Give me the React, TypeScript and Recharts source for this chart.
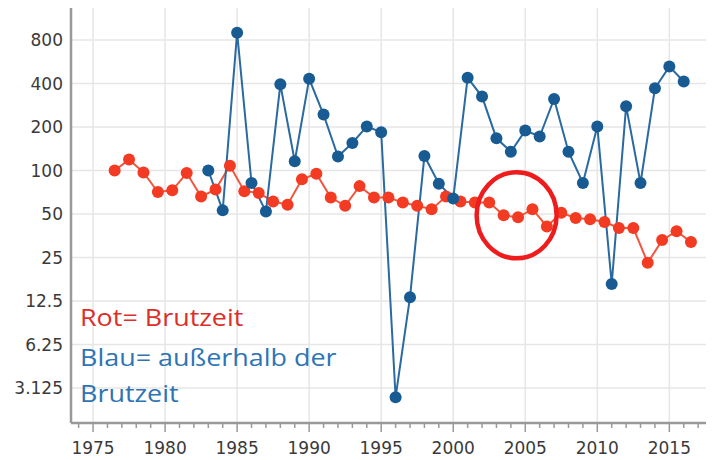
import React from "react";
import { LineChart, Line, XAxis, YAxis, CartesianGrid, ReferenceLine, ReferenceDot } from "recharts";

const redYears = [
  1976.5, 1977.5, 1978.5, 1979.5, 1980.5, 1981.5, 1982.5, 1983.5, 1984.5, 1985.5,
  1986.5, 1987.5, 1988.5, 1989.5, 1990.5, 1991.5, 1992.5, 1993.5, 1994.5, 1995.5,
  1996.5, 1997.5, 1998.5, 1999.5, 2000.5, 2001.5, 2002.5, 2003.5, 2004.5, 2005.5,
  2006.5, 2007.5, 2008.5, 2009.5, 2010.5, 2011.5, 2012.5, 2013.5, 2014.5, 2015.5, 2016.5,
];
const redValues = [
  100, 119, 97, 71, 73, 96, 66, 74, 108, 72,
  70, 61, 58, 87, 95, 65, 57, 78, 65, 65,
  60, 57, 54, 66, 61, 60, 60, 49, 47.5, 54,
  41, 51, 47, 46, 44, 40, 40, 23, 33, 38, 32,
];

const blueYears = [
  1983, 1984, 1985, 1986, 1987, 1988, 1989, 1990, 1991, 1992,
  1993, 1994, 1995, 1996, 1997, 1998, 1999, 2000, 2001, 2002,
  2003, 2004, 2005, 2006, 2007, 2008, 2009, 2010, 2011, 2012,
  2013, 2014, 2015, 2016,
];
const blueValues = [
  100, 53, 900, 82, 52, 395, 116, 431, 244, 125,
  155, 202, 184, 2.7, 13.3, 126, 81, 64, 438, 325,
  167, 135, 189, 172, 313, 135, 82, 202, 16.4, 279,
  82, 371, 524, 413,
];

const majorXTicks = [1975, 1980, 1985, 1990, 1995, 2000, 2005, 2010, 2015];
const allXTicks = [
  1974, 1975, 1976, 1977, 1978, 1979, 1980, 1981, 1982, 1983, 1984, 1985, 1986,
  1987, 1988, 1989, 1990, 1991, 1992, 1993, 1994, 1995, 1996, 1997, 1998, 1999,
  2000, 2001, 2002, 2003, 2004, 2005, 2006, 2007, 2008, 2009, 2010, 2011, 2012,
  2013, 2014, 2015, 2016, 2017, 2018,
];
const yTicks = [3.125, 6.25, 12.5, 25, 50, 100, 200, 400, 800];
const xDomain = [1973.47, 2018.1];
const yDomain = [1.79, 1398];

const legendLines = [
  { text: "Rot= Brutzeit", color: "#dc2f2a" },
  { text: "Blau= außerhalb der", color: "#2e74b5" },
  { text: "Brutzeit", color: "#2e74b5" },
];

const annotation = { year: 2004.4, value: 49 };

const redData = redYears.map((year, i) => ({ year, value: redValues[i] }));
const blueData = blueYears.map((year, i) => ({ year, value: blueValues[i] }));

const tickFont = "DejaVu Sans, Verdana, sans-serif";

const XTick = (props: any) => {
  const { x, y, payload } = props;
  const major = majorXTicks.includes(payload.value);
  return (
    <g>
      <line x1={x} x2={x} y1={y} y2={y + (major ? 9 : 5)} stroke="#999" strokeWidth={1.5} />
      {major && (
        <text x={x} y={y + 31} textAnchor="middle" fill="#3a3a3a" fontSize={17} fontFamily={tickFont}>
          {payload.value}
        </text>
      )}
    </g>
  );
};

const Ellipse = (props: any) => {
  const { cx, cy } = props;
  return <ellipse cx={cx} cy={cy} rx={40} ry={43} fill="none" stroke="#ee1c1c" strokeWidth={4.5} />;
};

export default function App() {
  return (
    <div style={{ position: "relative", width: 714, height: 460, margin: "-8px 0 0 -8px", background: "#fff" }}>
      <LineChart width={714} height={460} data={redData} margin={{ top: 5, right: 0, bottom: 0, left: 8 }}>
        <CartesianGrid vertical={false} stroke="#e6e6e6" strokeWidth={1.5} />
        {majorXTicks.map((t) => (
          <ReferenceLine key={t} x={t} stroke="#e6e6e6" strokeWidth={1.5} />
        ))}
        <XAxis
          dataKey="year"
          type="number"
          domain={xDomain}
          allowDataOverflow
          ticks={allXTicks}
          interval={0}
          tickSize={0}
          tickMargin={0}
          height={37}
          tick={<XTick />}
          axisLine={{ stroke: "#999", strokeWidth: 2.5 }}
          tickLine={false}
        />
        <YAxis
          type="number"
          scale="log"
          domain={yDomain}
          allowDataOverflow
          ticks={yTicks}
          interval={0}
          width={63}
          tickSize={0}
          tickMargin={8}
          tickLine={false}
          axisLine={{ stroke: "#999", strokeWidth: 2.5 }}
          tick={{ fill: "#3a3a3a", fontSize: 17, fontFamily: tickFont }}
        />
        <ReferenceLine y={yDomain[1]} stroke="#999" strokeWidth={2.5} />
        <Line
          data={redData}
          dataKey="value"
          stroke="#f0573e"
          strokeWidth={2}
          dot={{ r: 6, fill: "#f23b22", stroke: "none" }}
          isAnimationActive={false}
        />
        <Line
          data={blueData}
          dataKey="value"
          stroke="#2a6aa0"
          strokeWidth={2}
          dot={{ r: 6, fill: "#185b92", stroke: "none" }}
          isAnimationActive={false}
        />
        <ReferenceDot x={annotation.year} y={annotation.value} r={40} shape={<Ellipse />} ifOverflow="visible" />
      </LineChart>
      {legendLines.map((l, i) => (
        <div
          key={i}
          style={{
            position: "absolute",
            left: 80,
            top: [298, 338, 374][i],
            height: 38,
            lineHeight: "38px",
            fontSize: 23,
            fontFamily: "Open Sans, sans-serif",
            color: l.color,
            whiteSpace: "nowrap",
            transform: "scaleX(1.17)",
            transformOrigin: "left center",
          }}
        >
          {l.text}
        </div>
      ))}
    </div>
  );
}
